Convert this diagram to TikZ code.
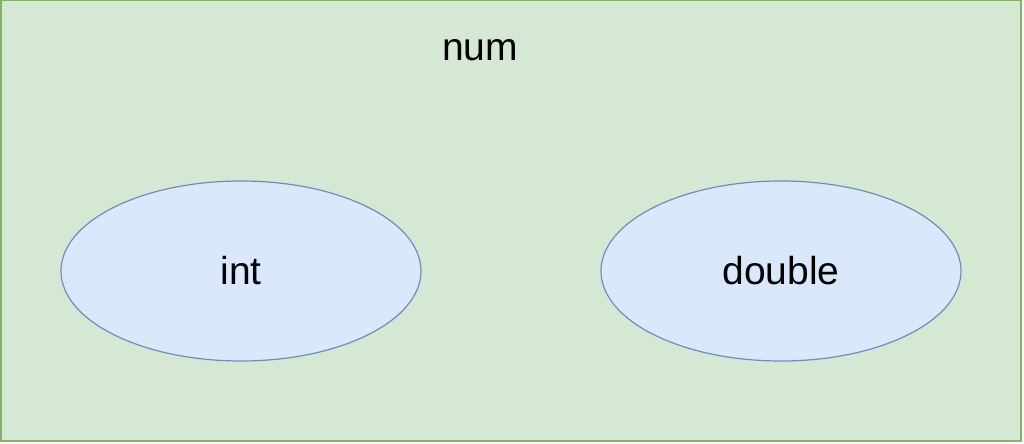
\documentclass[tikz,border=0pt]{standalone}
\usepackage{fontspec}
\setmainfont{Liberation Sans}
\usepackage{xcolor}
\usetikzlibrary{positioning, shapes.geometric}
\definecolor{boxgreen}{HTML}{D5E8D4}
\definecolor{boxgreenline}{HTML}{82B366}
\definecolor{typeblue}{HTML}{DAE8FC}
\definecolor{typeblueline}{HTML}{6C8EBF}

\begin{document}
\begin{tikzpicture}[x=0.5pt, y=-0.5pt,
    typenode/.style={ellipse, draw=typeblueline, fill=typeblue, line width=0.6pt,
      minimum width=180pt, minimum height=90pt, inner sep=0pt,
      font=\fontsize{19.5}{23}\selectfont}]
  \useasboundingbox (0,0) rectangle (1024,444);
  \draw[draw=boxgreenline, fill=boxgreen, line width=1pt] (0.5,0.5) rectangle (1020.5,440.5);
  \node[font=\fontsize{19.5}{23}\selectfont] (num) at (480,50) {num};
  \node[typenode] (int) at (241,271) {int};
  \node[typenode] (double) at (781,271) {double};
\end{tikzpicture}
\end{document}
